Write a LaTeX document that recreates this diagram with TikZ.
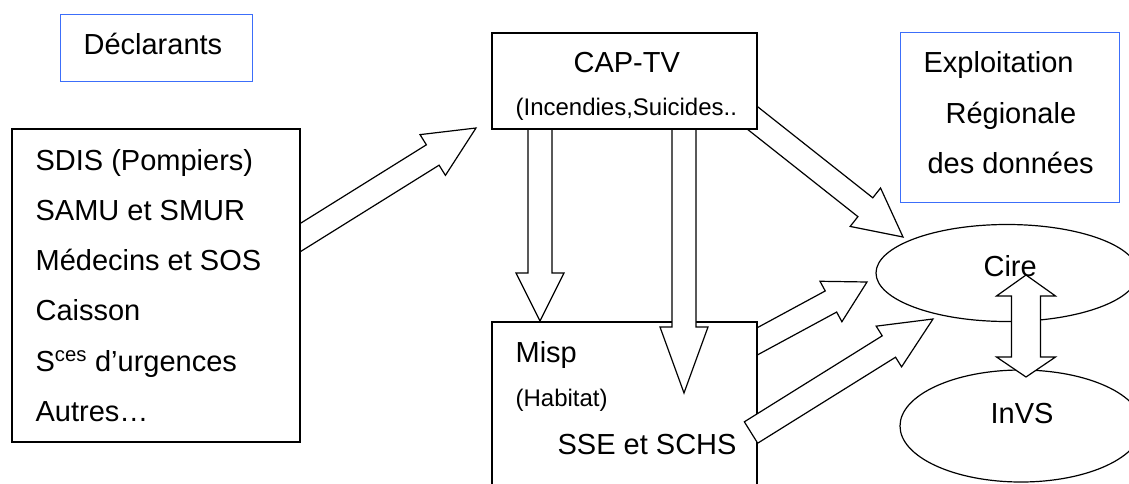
\documentclass[tikz,border=0pt]{standalone}
\usepackage{fontspec}
\setmainfont{Liberation Sans}
\usetikzlibrary{calc,shapes.geometric}
\definecolor{boxblue}{RGB}{60,110,250}
\newcommand\bigf{\fontsize{29}{35}\selectfont}
\newcommand\smallf{\fontsize{24}{29}\selectfont}
% #1 tail, #2 tip, #3 shaft half width, #4 head half width, #5 head length
\newcommand\blockarrow[5]{%
  \coordinate (ba-h) at ($(#2)!#5!(#1)$);
  \draw[arrowbox] ($(#1)!#3!90:(#2)$) -- ($(ba-h)!#3!-90:(#1)$) -- ($(ba-h)!#4!-90:(#1)$)
    -- (#2) -- ($(ba-h)!#4!90:(#1)$) -- ($(ba-h)!#3!90:(#1)$) -- ($(#1)!#3!-90:(#2)$) -- cycle;
}
\begin{document}
\begin{tikzpicture}[x=1pt,y=-1pt, line width=1.2pt, line join=miter,
  box/.style={draw, fill=white, rectangle, inner sep=0pt, outer sep=0pt, anchor=north west},
  bluebox/.style={draw=boxblue, line width=1pt, rectangle, inner sep=0pt, outer sep=0pt, anchor=north west},
  txt/.style={inner sep=0pt, anchor=base west, font=\bigf},
  stxt/.style={inner sep=0pt, anchor=base west, font=\smallf},
  arrowbox/.style={draw, fill=white},
  oval/.style={draw, ellipse, inner sep=0pt, outer sep=0pt}]
\useasboundingbox (0,0) rectangle (1129,484);
\clip (0,0) rectangle (1129,484);

% arrow Misp -> Cire (upper), under the Misp box
\coordinate (a5t) at (745,348);
\coordinate (a5h) at (867,282);
\blockarrow{a5t}{a5h}{12pt}{23pt}{41pt}

% Misp box (bottom edge outside the picture)
\node[box, minimum width=265pt, minimum height=200pt] (misp) at (492,322) {};

% block arrows
\coordinate (a1t) at (290,244);
\coordinate (a1h) at (476,128);
\blockarrow{a1t}{a1h}{12pt}{24pt}{51pt}
\coordinate (a2t) at (540,120);
\coordinate (a2h) at (540,321);
\blockarrow{a2t}{a2h}{12pt}{24pt}{48pt}
\coordinate (a3t) at (684,120);
\coordinate (a3h) at (684,393);
\blockarrow{a3t}{a3h}{12pt}{24pt}{66pt}
\coordinate (a4t) at (750,116);
\coordinate (a4h) at (903,237);
\blockarrow{a4t}{a4h}{12pt}{24.5pt}{48pt}
\coordinate (a6t) at (751,432.5);
\coordinate (a6h) at (933,319);
\blockarrow{a6t}{a6h}{12.6pt}{24pt}{52pt}

% boxes
\node[box, minimum width=288pt, minimum height=313pt] (src) at (12,129) {};
\node[box, minimum width=265pt, minimum height=96pt] (cap) at (492,33) {};
\node[bluebox, minimum width=192pt, minimum height=67pt] (dec) at (60,15) {};
\node[bluebox, minimum width=219pt, minimum height=169pt] (expl) at (900,33) {};

% texts
\node[txt] (decT) at (83,55) {Déclarants};
\node[txt] (s1) at (35,170) {SDIS (Pompiers)};
\node[txt] (s2) at (35,220) {SAMU et SMUR};
\node[txt] (s3) at (35,270) {Médecins et SOS};
\node[txt] (s4) at (35,320.5) {Caisson};
\node[txt] (s5) at (35,371) {S\textsuperscript{ces} d’urgences};
\node[txt] (s6) at (35,421.5) {Autres…};
\node[txt] (capT) at (573,73) {CAP-TV};
\node[stxt] (capS) at (515,116) {(Incendies,Suicides..};
\node[txt] (mispT) at (515,362) {Misp};
\node[stxt] (mispS) at (515,406) {(Habitat)};
\node[txt] (sse) at (557,454) {SSE et SCHS};
\node[txt] (e1) at (923,73) {Exploitation};
\node[txt] (e2) at (945,124) {Régionale};
\node[txt] (e3) at (927,173) {des données};

% ellipses
\node[oval, minimum width=262pt, minimum height=97pt] (cire) at (1007,273) {};
\node[oval, minimum width=242pt, minimum height=112pt] (invs) at (1021,426) {};
\node[txt] (cireT) at (983,276) {Cire};
\node[txt] (invsT) at (990,423) {InVS};

% double arrow Cire <-> InVS
\coordinate (dA) at (1026,275);
\coordinate (dB) at (1026,377);
\draw[arrowbox] (dA) -- ($(dA)+(29.5,21)$) -- ($(dA)+(14.5,21)$) -- ($(dB)+(14.5,-20)$)
  -- ($(dB)+(29.5,-20)$) -- (dB) -- ($(dB)+(-29.5,-20)$) -- ($(dB)+(-14.5,-20)$)
  -- ($(dA)+(-14.5,21)$) -- ($(dA)+(-29.5,21)$) -- cycle;
\end{tikzpicture}
\end{document}
